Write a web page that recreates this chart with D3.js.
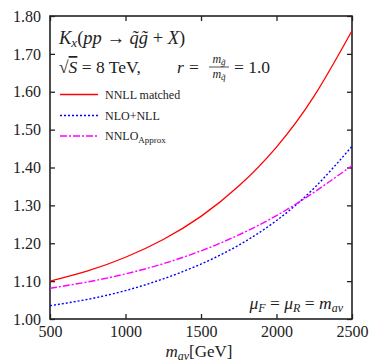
<!DOCTYPE html>
<html><head><meta charset="utf-8">
<script src="https://cdn.jsdelivr.net/npm/d3@7"></script>
<style>
html,body{margin:0;padding:0;background:#fff;}
svg text{font-family:"Liberation Serif","DejaVu Serif",serif;fill:#222;}
</style></head>
<body><svg id="c" width="374" height="363"></svg>
<script>
const masses = [500, 750, 1000, 1250, 1500, 1750, 2000, 2250, 2500];
const nnllMatched = [1.100, 1.127, 1.163, 1.210, 1.271, 1.351, 1.454, 1.589, 1.761];
const nloNll = [1.035, 1.052, 1.075, 1.106, 1.145, 1.195, 1.260, 1.346, 1.456];
const nnloApprox = [1.081, 1.098, 1.119, 1.146, 1.180, 1.222, 1.273, 1.335, 1.405];
const xTicks = [500, 1000, 1500, 2000, 2500];
const yTicks = [1.00, 1.10, 1.20, 1.30, 1.40, 1.50, 1.60, 1.70, 1.80];

const svg = d3.select("#c");
const L = 50, R = 352, T = 16, B = 319;
const x = d3.scaleLinear().domain([500, 2500]).range([L, R]);
const y = d3.scaleLinear().domain([1.0, 1.8]).range([B, T]);

const tickLen = 5;
const gB = svg.append("g").attr("transform", `translate(0,${B})`)
  .call(d3.axisBottom(x).tickValues(xTicks).tickSizeInner(-tickLen).tickSizeOuter(0).tickPadding(7).tickFormat(d3.format("d")));
const gT = svg.append("g").attr("transform", `translate(0,${T})`)
  .call(d3.axisTop(x).tickValues(xTicks).tickSizeInner(-tickLen).tickSizeOuter(0).tickFormat(""));
const gL = svg.append("g").attr("transform", `translate(${L},0)`)
  .call(d3.axisLeft(y).tickValues(yTicks).tickSizeInner(-tickLen).tickSizeOuter(0).tickPadding(9).tickFormat(d3.format(".2f")));
const gR = svg.append("g").attr("transform", `translate(${R},0)`)
  .call(d3.axisRight(y).tickValues(yTicks).tickSizeInner(-tickLen).tickSizeOuter(0).tickFormat(""));
[gB, gT, gL, gR].forEach(g => {
  g.select(".domain").remove();
  g.selectAll(".tick line").attr("stroke", "#222").attr("stroke-width", 1.3);
  g.selectAll(".tick text").attr("font-size", 16).attr("fill", "#222")
   .attr("font-family", "'Liberation Serif', serif");
});
gB.selectAll(".tick text").attr("dy", "0.71em");

svg.append("rect").attr("x", L).attr("y", T).attr("width", R - L).attr("height", B - T)
  .attr("fill", "none").attr("stroke", "#222").attr("stroke-width", 1.6);

const line = d3.line().x((d, i) => x(masses[i])).y(d => y(d)).curve(d3.curveNatural);
svg.append("clipPath").attr("id", "cp").append("rect")
  .attr("x", L).attr("y", T).attr("width", R - L).attr("height", B - T);
const series = [
  {vals: nnllMatched, color: "#ff0000", dash: null, w: 1.3},
  {vals: nloNll, color: "#0000ff", dash: "2,2", w: 1.4},
  {vals: nnloApprox, color: "#ff00ff", dash: "7,2,2,2", w: 1.4}
];
series.forEach(s => {
  svg.append("path").attr("d", line(s.vals)).attr("fill", "none")
    .attr("stroke", s.color).attr("stroke-width", s.w)
    .attr("stroke-dasharray", s.dash).attr("clip-path", "url(#cp)");
});

// title text
const t1 = svg.append("text").attr("x", 59).attr("y", 44).attr("font-size", 18.5);
t1.append("tspan").attr("font-style", "italic").text("K");
t1.append("tspan").attr("font-style", "italic").attr("font-size", 13).attr("dy", 3).text("x");
t1.append("tspan").attr("dy", -3).text("(");
t1.append("tspan").attr("font-style", "italic").text("pp");
t1.append("tspan").text(" → ");
t1.append("tspan").attr("font-style", "italic").text("q̃g̃");
t1.append("tspan").text(" + ");
t1.append("tspan").attr("font-style", "italic").text("X");
t1.append("tspan").text(")");

const t2 = svg.append("text").attr("x", 59).attr("y", 73).attr("font-size", 17.5);
t2.append("tspan").text("√");
t2.append("tspan").attr("font-style", "italic").attr("text-decoration", "overline").text("S");
t2.append("tspan").text(" = 8 TeV,");
svg.append("text").attr("x", 177).attr("y", 73).attr("font-size", 17.5).attr("font-style", "italic").text("r");
svg.append("text").attr("x", 189).attr("y", 73).attr("font-size", 17.5).text("=");
svg.append("line").attr("x1", 209).attr("x2", 229).attr("y1", 67).attr("y2", 67).attr("stroke", "#222").attr("stroke-width", 0.8);
const num = svg.append("text").attr("x", 219).attr("y", 63).attr("font-size", 12).attr("font-style", "italic").attr("text-anchor", "middle");
num.append("tspan").text("m");
num.append("tspan").attr("font-size", 9).attr("dy", 2).text("g̃");
const den = svg.append("text").attr("x", 219).attr("y", 78).attr("font-size", 12).attr("font-style", "italic").attr("text-anchor", "middle");
den.append("tspan").text("m");
den.append("tspan").attr("font-size", 9).attr("dy", 2).text("q̃");
svg.append("text").attr("x", 234).attr("y", 73).attr("font-size", 17.5).text("= 1.0");

// legend
const legNames = ["NNLL matched", "NLO+NLL", "NNLO"];
const legY = [94.5, 115.5, 136];
series.forEach((s, i) => {
  svg.append("line").attr("x1", 60).attr("x2", 98).attr("y1", legY[i]).attr("y2", legY[i])
    .attr("stroke", s.color).attr("stroke-width", s.w).attr("stroke-dasharray", s.dash);
  const tx = svg.append("text").attr("x", 105).attr("y", legY[i] + 4).attr("font-size", 12).text(legNames[i]);
  if (i === 2) tx.append("tspan").attr("font-size", 9).attr("dy", 3).text("Approx");
});

// scale text
const t3 = svg.append("text").attr("x", 343).attr("y", 309).attr("font-size", 17.5).attr("text-anchor", "end");
t3.append("tspan").attr("font-style", "italic").text("μ");
t3.append("tspan").attr("font-style", "italic").attr("font-size", 12).attr("dy", 3).text("F");
t3.append("tspan").attr("dy", -3).text(" = ");
t3.append("tspan").attr("font-style", "italic").text("μ");
t3.append("tspan").attr("font-style", "italic").attr("font-size", 12).attr("dy", 3).text("R");
t3.append("tspan").attr("dy", -3).text(" = ");
t3.append("tspan").attr("font-style", "italic").text("m");
t3.append("tspan").attr("font-style", "italic").attr("font-size", 12).attr("dy", 3).text("av");

// x label
const xl = svg.append("text").attr("x", 199).attr("y", 357).attr("font-size", 17).attr("text-anchor", "middle");
xl.append("tspan").attr("font-style", "italic").text("m");
xl.append("tspan").attr("font-style", "italic").attr("font-size", 12).attr("dy", 3).text("av");
xl.append("tspan").attr("dy", -3).text("[GeV]");
</script></body></html>
